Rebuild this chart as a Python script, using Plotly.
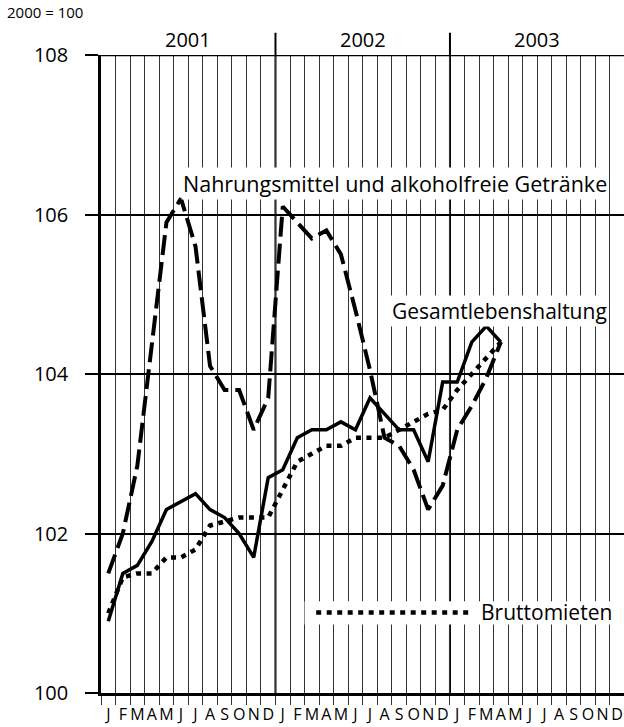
import plotly.graph_objects as go

month_letters = ["J", "F", "M", "A", "M", "J", "J", "A", "S", "O", "N", "D"]
years = ["2001", "2002", "2003"]
y_ticks = [100, 102, 104, 106, 108]

gesamt = [100.9, 101.5, 101.6, 101.9, 102.3, 102.4, 102.5, 102.3, 102.2, 102.0, 101.7, 102.7,
          102.8, 103.2, 103.3, 103.3, 103.4, 103.3, 103.7, 103.5, 103.3, 103.3, 102.9, 103.9,
          103.9, 104.4, 104.6, 104.4]
brutto = [101.0, 101.45, 101.5, 101.5, 101.7, 101.7, 101.8, 102.1, 102.15, 102.2, 102.2, 102.2,
          102.55, 102.9, 103.0, 103.1, 103.1, 103.2, 103.2, 103.2, 103.3, 103.4, 103.5, 103.55,
          103.8, 104.0, 104.2, 104.4]
nahrung = [101.5, 102.0, 102.85, 104.4, 105.9, 106.2, 105.6, 104.1, 103.8, 103.8, 103.3, 103.7,
           106.1, 105.9, 105.7, 105.8, 105.5, 104.8, 104.05, 103.2, 103.1, 102.8, 102.3, 102.6,
           103.3, 103.6, 103.95, 104.4]

FONT = "Open Sans"
XMAX = 35.97
n = len(gesamt)
xs = [i + 0.5 for i in range(n)]

fig = go.Figure()
fig.add_trace(go.Scatter(x=xs, y=nahrung, mode="lines",
                         line=dict(color="black", width=4, dash="20px,7px")))
fig.add_trace(go.Scatter(x=xs, y=brutto, mode="lines",
                         line=dict(color="black", width=4.5, dash="5px,5.5px")))
fig.add_trace(go.Scatter(x=xs, y=gesamt, mode="lines",
                         line=dict(color="black", width=3.5)))

tickvals = [i + 0.5 for i in range(36)]
ticktext = [month_letters[i % 12] for i in range(36)]

shapes = []
shapes.append(dict(type="line", xref="paper", yref="y", x0=0, x1=1, y0=108, y1=108,
                   line=dict(color="black", width=2.5), layer="above"))
for k in (12, 24):
    shapes.append(dict(type="line", xref="paper", yref="paper", x0=k / XMAX, x1=k / XMAX,
                       y0=0, y1=1.035, line=dict(color="black", width=2), layer="below"))
shapes.append(dict(type="rect", xref="x", yref="y", x0=14.0, x1=35.3, y0=100.86, y1=101.15,
                   fillcolor="white", line=dict(width=0), layer="above"))
shapes.append(dict(type="line", xref="x", yref="y", x0=14.8, x1=25.3, y0=101.01, y1=101.01,
                   line=dict(color="black", width=4.5, dash="5px,5.5px"), layer="above"))

annotations = []
for i, yr in enumerate(years):
    annotations.append(dict(text=yr, x=(12 * i + 6) / XMAX, xref="paper", y=1.0, yref="paper",
                            xanchor="center", yanchor="bottom", showarrow=False,
                            font=dict(family=FONT, size=20, color="black")))
annotations.append(dict(text="2000 = 100", xref="paper", yref="paper", x=-96 / 523, y=1.048,
                        xanchor="left", yanchor="bottom", showarrow=False,
                        font=dict(family=FONT, size=15, color="black")))
annotations.append(dict(text="Nahrungsmittel und alkoholfreie Getränke", xref="x", yref="y",
                        x=34.97, y=106.39, xanchor="right", yanchor="middle", showarrow=False,
                        bgcolor="white", borderpad=1,
                        font=dict(family=FONT, size=21.5, color="black")))
annotations.append(dict(text="Gesamtlebenshaltung", xref="x", yref="y",
                        x=34.97, y=104.79, xanchor="right", yanchor="middle", showarrow=False,
                        bgcolor="white", borderpad=1,
                        font=dict(family=FONT, size=21, color="black")))
annotations.append(dict(text="Bruttomieten", xref="x", yref="y",
                        x=26.0, y=101.01, xanchor="left", yanchor="middle", showarrow=False,
                        font=dict(family=FONT, size=21, color="black")))

fig.update_layout(
    width=624, height=727,
    margin=dict(l=101, r=0, t=55, b=34, autoexpand=False),
    paper_bgcolor="white", plot_bgcolor="white",
    showlegend=False,
    shapes=shapes, annotations=annotations,
    xaxis=dict(range=[0, XMAX], tickmode="array", tickvals=tickvals, ticktext=ticktext,
               ticks="", showgrid=False, zeroline=False, automargin=False, tickangle=0,
               showline=True, linecolor="black", linewidth=2.5,
               ticklabelstandoff=5,
               tickfont=dict(family=FONT, size=16, color="black"),
               minor=dict(tickmode="linear", tick0=0, dtick=1, ticks="outside", ticklen=9,
                          tickcolor="#333", tickwidth=1, showgrid=True,
                          gridcolor="#333", gridwidth=1.2)),
    yaxis=dict(range=[100, 108], tickmode="array", tickvals=y_ticks, automargin=False,
               ticks="outside", ticklen=13, tickwidth=1.5, tickcolor="black",
               showgrid=True, gridcolor="black", gridwidth=1.5, zeroline=False,
               showline=True, linecolor="black", linewidth=2.5,
               ticklabelstandoff=13,
               tickfont=dict(family=FONT, size=20, color="black")),
)

fig.write_html("out.html", config={"displayModeBar": False},
               post_script="document.body.style.margin='0';document.body.style.padding='0';"
                           "document.body.style.overflow='hidden';")
